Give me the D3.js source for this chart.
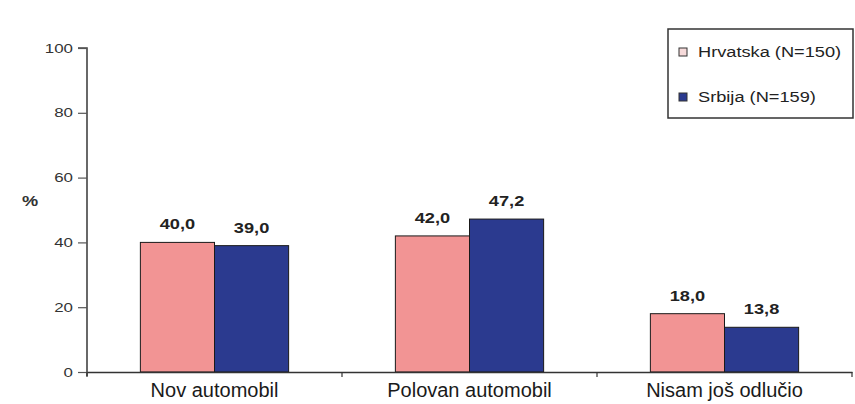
<!DOCTYPE html>
<html><head><meta charset="utf-8">
<script src="https://cdn.jsdelivr.net/npm/d3@7"></script>
<style>body{margin:0;background:#fff}svg{display:block;font-family:"Liberation Sans",Arial,sans-serif}</style>
</head><body><svg id="c" width="855" height="404"></svg>
<script>
const categories = ["Nov automobil", "Polovan automobil", "Nisam još odlučio"];
const seriesNames = ["Hrvatska (N=150)", "Srbija (N=159)"];
const hrvatska = [40.0, 42.0, 18.0];
const srbija = [39.0, 47.2, 13.8];
const yTicks = [0, 20, 40, 60, 80, 100];
const colors = ["#F29494", "#2B3A8F"];

const svg = d3.select("#c");
const mLeft = 87, mRight = 852, mBottom = 372, mTop = 48;
const stretch = 1.3;
function widen(sel, k) {
  sel.each(function () {
    const w = this.getComputedTextLength();
    d3.select(this).attr("textLength", w * k).attr("lengthAdjust", "spacingAndGlyphs");
  });
}
const x0 = d3.scaleBand().domain(categories).range([mLeft, mRight]).padding(0);
const x1 = d3.scaleBand().domain(seriesNames).range([0, x0.bandwidth()]).paddingInner(0).paddingOuter(0.72);
const y = d3.scaleLinear().domain([0, 100]).range([mBottom, mTop]);
const series = [hrvatska, srbija];
const fmt = v => v.toFixed(1).replace(".", ",");

// bars
categories.forEach((c, i) => {
  seriesNames.forEach((s, j) => {
    const v = series[j][i];
    svg.append("rect")
      .attr("x", x0(c) + x1(s)).attr("y", y(v))
      .attr("width", x1.bandwidth()).attr("height", y(0) - y(v))
      .attr("fill", colors[j]).attr("stroke", "#1a1a1a").attr("stroke-width", 1);
    const t = svg.append("text")
      .attr("x", x0(c) + x1(s) + x1.bandwidth() / 2)
      .attr("y", y(v) - 13)
      .attr("text-anchor", "middle").attr("font-size", 14).attr("font-weight", "bold")
      .attr("fill", "#222").text(fmt(v));
    widen(t, stretch);
  });
});

// y axis
const yAxis = d3.axisLeft(y).tickValues(yTicks).tickSize(9).tickPadding(5);
const gy = svg.append("g").attr("transform", `translate(${mLeft},0)`).call(yAxis);
gy.select(".domain").attr("stroke", "#444").attr("stroke-width", 1.6).attr("d", `M-9,${mTop}H0V${mBottom + 4}`);
gy.selectAll(".tick line").attr("stroke", "#555").attr("stroke-width", 1.2);
gy.selectAll(".tick text").attr("font-size", 13).attr("fill", "#333").attr("font-family", "Liberation Sans, Arial, sans-serif");
widen(gy.selectAll(".tick text"), stretch);
const pct = svg.append("text").attr("x", 30).attr("y", 206).attr("text-anchor", "middle")
  .attr("font-size", 14).attr("font-weight", "bold").attr("fill", "#333").text("%");
widen(pct, stretch);

// x axis
const xAxis = d3.axisBottom(x0).tickSize(0).tickPadding(11);
const gx = svg.append("g").attr("transform", `translate(0,${mBottom})`).call(xAxis);
gx.select(".domain").attr("stroke", "#333").attr("stroke-width", 1.5);
gx.selectAll(".tick text").attr("font-size", 20).attr("fill", "#1a1a1a").attr("font-family", "Liberation Sans, Arial, sans-serif");
const bounds = categories.map(c => x0(c) + x0.bandwidth()).concat([mLeft]);
gx.selectAll("line.sep").data(bounds).enter().append("line").attr("class", "sep")
  .attr("x1", d => d).attr("x2", d => d).attr("y1", 0).attr("y2", 5)
  .attr("stroke", "#333").attr("stroke-width", 1.2);

// legend
const lg = svg.append("g");
lg.append("rect").attr("x", 668).attr("y", 29).attr("width", 185).attr("height", 89)
  .attr("fill", "#fff").attr("stroke", "#333").attr("stroke-width", 1.5);
const legendFill = ["#F6DADA", colors[1]];
seriesNames.forEach((s, j) => {
  const cy = 52 + j * 45;
  lg.append("rect").attr("x", 679).attr("y", cy - 4).attr("width", 8).attr("height", 8)
    .attr("fill", legendFill[j]).attr("stroke", "#333").attr("stroke-width", 1);
  const t = lg.append("text").attr("x", 698).attr("y", cy + 5).attr("font-size", 14)
    .attr("fill", "#222").text(s);
  widen(t, stretch);
});
</script></body></html>
